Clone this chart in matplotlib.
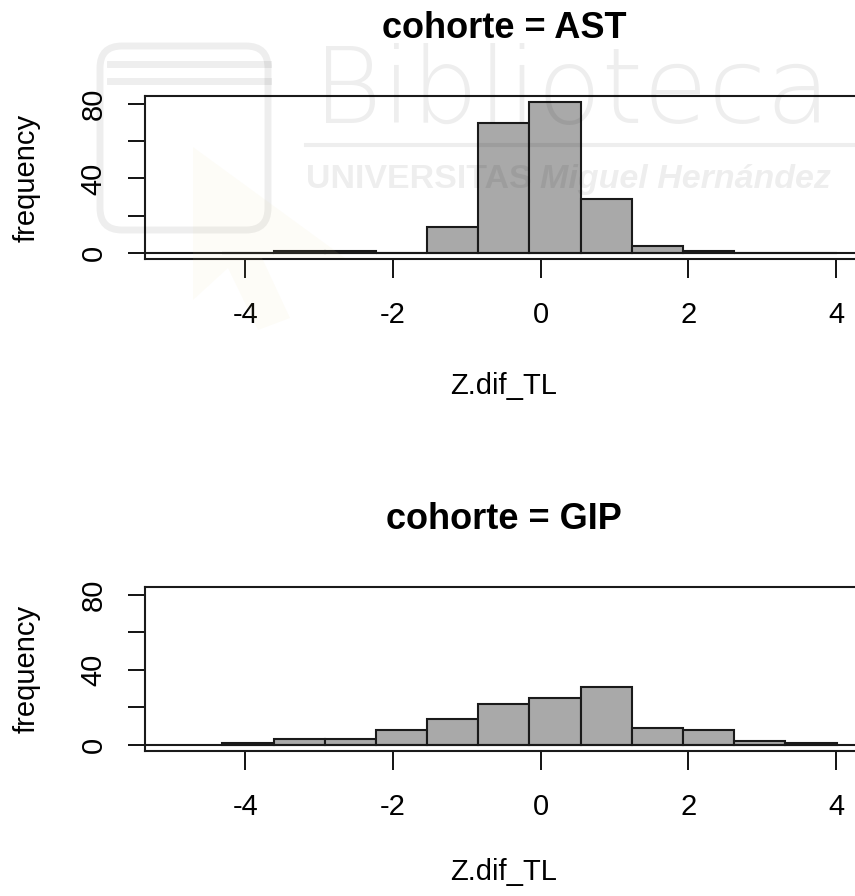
import numpy as np
import matplotlib
matplotlib.use("Agg")
from matplotlib import pyplot as plt
from matplotlib.transforms import Affine2D
from matplotlib.patches import FancyBboxPatch, Polygon

plt.rcParams['font.family'] = ['Liberation Sans', 'DejaVu Sans']

# histogram breaks and counts
breaks = [-4.31, -3.617, -2.924, -2.231, -1.538, -0.845, -0.152,
          0.541, 1.234, 1.927, 2.62, 3.313, 4.006]
ast_counts = [0, 1, 1, 0, 14, 70, 81, 29, 4, 1, 0, 0]
gip_counts = [1, 3, 3, 8, 14, 22, 25, 31, 9, 8, 2, 1]
cohortes = ['AST', 'GIP']
y_ticks = [0, 20, 40, 60, 80]
y_labels = ['0', '', '40', '', '80']
x_ticks = [-4, -2, 0, 2, 4]

W, H = 855, 896
fig = plt.figure(figsize=(W / 100, H / 100), dpi=100)
# pixel coords, y going down
px = Affine2D().scale(1 / W, -1 / H).translate(0, 1) + fig.transFigure

panels = [(96, 259, 31), (587, 751, 26.5)]
mids = np.array(breaks[:-1])

for (top, bot, xpad), name, counts in zip(panels, cohortes, [ast_counts, gip_counts]):
    ax = fig.add_axes([145 / W, (H - bot) / H, 718 / W, (bot - top) / H])
    ax.set_facecolor('none')
    ax.hist(mids, bins=breaks, weights=counts, color='#a9a9a9',
            edgecolor='#1a1a1a', linewidth=1.5)
    ax.axhline(0, color='#1a1a1a', lw=1.5)
    ax.set_xlim(-5.358, 4.364)
    ax.set_ylim(-3.24, 84.24)
    ax.set_xticks(x_ticks)
    ax.set_xticklabels([str(v) for v in x_ticks])
    ax.set_yticks(y_ticks)
    ax.set_yticklabels(y_labels, rotation=90, va='center')
    ax.tick_params(axis='x', length=13.5, width=1.3, pad=17, labelsize=21)
    ax.tick_params(axis='y', length=12, width=1.3, pad=15, labelsize=21)
    for s in ax.spines.values():
        s.set_linewidth(1.5)
        s.set_color('#1a1a1a')
    ax.set_title('cohorte = ' + name, fontsize=26, fontweight='bold', pad=42)
    ax.set_xlabel('Z.dif_TL', fontsize=21, labelpad=xpad)
    ax.set_ylabel('frequency', fontsize=21, labelpad=28)

# library watermark over the top panel
wm = dict(color='black', alpha=0.065, zorder=10, transform=px)
fig.text(313, 123, 'Biblioteca', fontsize=76, family='DejaVu Sans', fontweight='light',
         ha='left', va='baseline', **wm)
fig.add_artist(plt.Line2D([306, 855], [145, 145], lw=3, **wm))
fig.text(306, 188, 'UNIVERSITAS', fontsize=24.5, fontweight='bold',
         ha='left', va='baseline', **wm)
fig.text(540, 188, 'Miguel Hernández', fontsize=24.5, fontweight='bold',
         style='italic', ha='left', va='baseline', **wm)
fig.add_artist(FancyBboxPatch((100, 46), 168, 184, boxstyle='round,pad=0,rounding_size=22',
                              fill=False, lw=5, **wm))
fig.add_artist(plt.Line2D([110, 268], [64, 64], lw=5, **wm))
fig.add_artist(plt.Line2D([110, 268], [81, 81], lw=5, **wm))
fig.add_artist(Polygon([(193, 147), (193, 300), (228, 268), (258, 330), (290, 318),
                        (262, 258), (345, 258)], closed=True, facecolor='#e8d890',
                       edgecolor='none', alpha=0.07, zorder=10, transform=px))

fig.savefig('out.png', dpi=100)
